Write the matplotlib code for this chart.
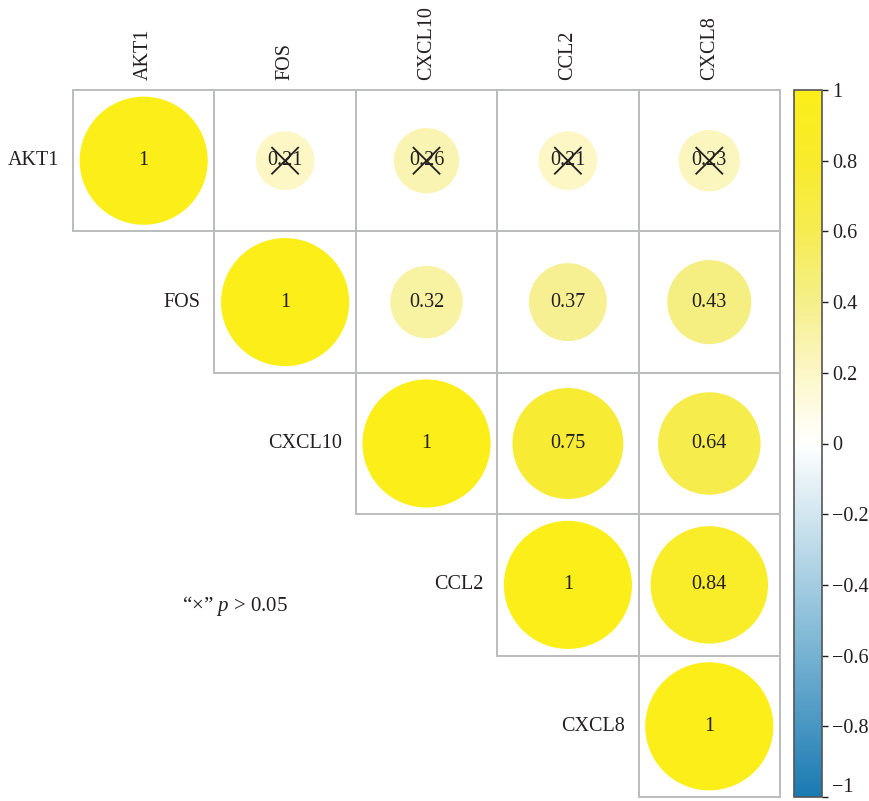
import numpy as np
import matplotlib.pyplot as plt
from matplotlib.patches import Circle, Rectangle
from matplotlib.colors import LinearSegmentedColormap, Normalize
from matplotlib.colorbar import ColorbarBase

genes = ['AKT1', 'FOS', 'CXCL10', 'CCL2', 'CXCL8']

# upper triangle of the correlation matrix, row by row
corr = [
    [1, 0.21, 0.26, 0.21, 0.23],
    [1, 0.32, 0.37, 0.43],
    [1, 0.75, 0.64],
    [1, 0.84],
    [1],
]
# cells with p > 0.05 (crossed out)
not_sig = [(0, 1), (0, 2), (0, 3), (0, 4)]

cbar_ticks = [1, 0.8, 0.6, 0.4, 0.2, 0, -0.2, -0.4, -0.6, -0.8, -1]

plt.rcParams['font.family'] = ['Liberation Serif', 'DejaVu Serif']
plt.rcParams['mathtext.fontset'] = 'custom'
plt.rcParams['mathtext.it'] = 'Liberation Serif:italic'
plt.rcParams['mathtext.rm'] = 'Liberation Serif'

cmap = LinearSegmentedColormap.from_list('bwy', [
    (0.0, '#1A7AB2'),
    (0.25, '#8DC0DA'),
    (0.4, '#D2E6EF'),
    (0.5, '#FFFFFF'),
    (0.6, '#FCF7C6'),
    (0.7, '#F5EF8B'),
    (0.8, '#F6EC52'),
    (0.9, '#F8EB2C'),
    (1.0, '#FBEE19'),
])
norm = Normalize(-1, 1)

fig = plt.figure(figsize=(8.7, 8.01), dpi=100)
ax = fig.add_axes([73 / 870, 4 / 801, 707 / 870, 707 / 801])
ax.set_xlim(0, 5)
ax.set_ylim(5, 0)
ax.set_aspect('equal')
ax.axis('off')

n = len(genes)
for i in range(n):
    for k, v in enumerate(corr[i]):
        j = i + k
        ax.add_patch(Rectangle((j, i), 1, 1, fill=False, edgecolor='#BBBDBD',
                               lw=1.4, clip_on=False))
        r = 0.453 * np.sqrt(abs(v))
        ax.add_patch(Circle((j + 0.5, i + 0.5), r, facecolor=cmap(norm(v)),
                            edgecolor='none'))
        lbl = '1' if v == 1 else '%.2f' % v
        ax.text(j + 0.5, i + 0.5, lbl, ha='center', va='center',
                fontsize=14.5, color='#231F20')
        if (i, j) in not_sig:
            d = 0.092
            ax.plot([j + 0.5 - d, j + 0.5 + d], [i + 0.5 - d, i + 0.5 + d],
                    color='#231F20', lw=1.3)
            ax.plot([j + 0.5 - d, j + 0.5 + d], [i + 0.5 + d, i + 0.5 - d],
                    color='#231F20', lw=1.3)

for i, g in enumerate(genes):
    ax.text(i - 0.1, i + 0.5, g, ha='right', va='center', fontsize=14.5,
            color='#231F20')
    ax.text(i + 0.5, -0.07, g, ha='center', va='bottom', rotation=90,
            fontsize=14.5, color='#231F20')

ax.text(1.146, 3.65, '\u201c\u00d7\u201d $p$ > 0.05', ha='center',
        va='center', fontsize=15, color='#231F20')

cax = fig.add_axes([794 / 870, 4 / 801, 28 / 870, 707 / 801])
cb = ColorbarBase(cax, cmap=cmap, norm=norm, ticks=cbar_ticks)
cb.outline.set_edgecolor('#555555')
cb.outline.set_linewidth(1.2)
cax.tick_params(labelsize=14.5, length=4, width=1, colors='#231F20')
cax.set_yticklabels(['1' if t == 1 else ('0' if t == 0 else ('\u22121' if t == -1 else
                     ('%.1f' % t).replace('-', '\u2212'))) for t in cbar_ticks])
# keep the bottom label inside the figure
cax.get_yticklabels()[-1].set_va('bottom')

fig.savefig('out.png', dpi=100)
